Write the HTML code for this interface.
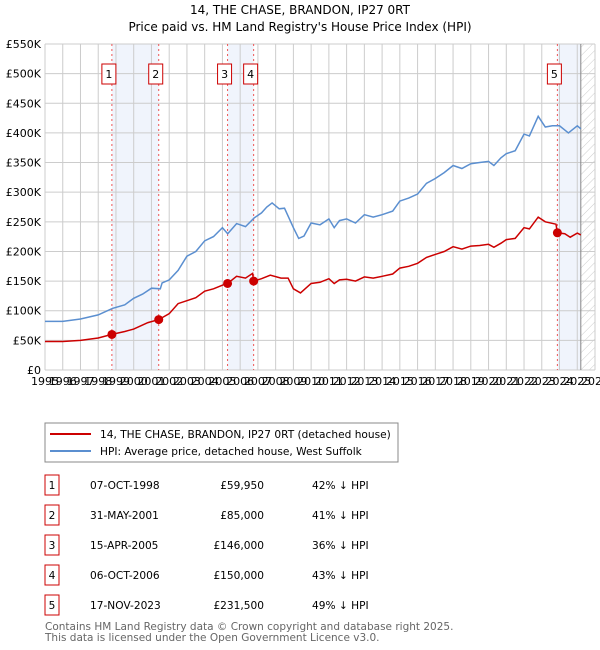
<!DOCTYPE html>
<html><head><meta charset="utf-8"><style>
body{margin:0;width:600px;height:650px;background:#fff;font-family:"DejaVu Sans","Liberation Sans",sans-serif;overflow:hidden}
svg{position:absolute;left:0;top:0}
</style></head><body>
<svg width="600" height="650" id="chart" font-family="DejaVu Sans, Liberation Sans, sans-serif">
<defs><pattern id="hatch" width="6" height="6" patternUnits="userSpaceOnUse" patternTransform="rotate(45)"><line x1="0" y1="0" x2="0" y2="6" stroke="#ccc" stroke-width="1"/></pattern></defs>
<text x="300" y="14" text-anchor="middle" font-size="12">14, THE CHASE, BRANDON, IP27 0RT</text>
<text x="300" y="31" text-anchor="middle" font-size="12">Price paid vs. HM Land Registry's House Price Index (HPI)</text>
<g id="grid"></g><g id="marks"></g><g id="axes"></g>
<rect x="45" y="423" width="353" height="39" fill="#fff" stroke="#888"/>
<line x1="50" y1="434" x2="91" y2="434" stroke="#cc0000" stroke-width="2"/>
<text x="100" y="438" font-size="10.6">14, THE CHASE, BRANDON, IP27 0RT (detached house)</text>
<line x1="50" y1="451" x2="91" y2="451" stroke="#5b8fd0" stroke-width="2"/>
<text x="100" y="455" font-size="10.6">HPI: Average price, detached house, West Suffolk</text>
<g id="table" font-size="10.6"></g>
<text x="45" y="630" font-size="10.5" fill="#666">Contains HM Land Registry data © Crown copyright and database right 2025.</text>
<text x="45" y="641" font-size="10.5" fill="#666">This data is licensed under the Open Government Licence v3.0.</text>
</svg>
<script>
const hpiYears=[1995,1996,1997,1998,1998.8,1999.5,2000,2000.5,2001,2001.5,2001.6,2002,2002.5,2003,2003.5,2004,2004.5,2005,2005.3,2005.8,2006.3,2006.8,2007.2,2007.5,2007.8,2008.2,2008.5,2009,2009.3,2009.6,2010,2010.5,2011,2011.3,2011.6,2012,2012.5,2013,2013.5,2014,2014.6,2015,2015.5,2016,2016.5,2017,2017.5,2018,2018.5,2019,2019.5,2020,2020.3,2020.7,2021,2021.5,2022,2022.3,2022.8,2023.2,2023.6,2024,2024.5,2025,2025.2];
const hpiValues=[82,82,86,93,104,110,121,128,138,137,147,152,168,192,200,218,225,240,230,247,242,257,265,275,282,272,273,240,222,226,248,245,255,240,252,255,248,262,258,262,268,285,290,297,315,323,333,345,340,348,350,352,345,358,365,370,398,395,428,410,412,412,400,412,407];
const propYears=[1995,1996,1997,1998,1998.77,1999.5,2000,2000.8,2001.41,2002,2002.5,2003,2003.5,2004,2004.5,2005,2005.29,2005.8,2006.3,2006.7,2006.76,2007.2,2007.7,2008.3,2008.7,2009,2009.4,2010,2010.5,2011,2011.3,2011.6,2012,2012.5,2013,2013.5,2014,2014.6,2015,2015.5,2016,2016.5,2017,2017.5,2018,2018.5,2019,2019.5,2020,2020.3,2020.7,2021,2021.5,2022,2022.3,2022.8,2023.2,2023.8,2023.88,2024.3,2024.6,2025,2025.2];
const propValues=[48,48,50,54,60,65,69,80,85,95,112,117,122,133,137,143,146,158,155,163,150,154,160,155,155,137,130,146,148,154,146,152,153,150,157,155,158,162,172,175,180,190,195,200,208,204,209,210,212,207,214,220,222,240,238,258,250,246,231.5,230,224,231,228];
const saleLabels=["1","2","3","4","5"];
const saleYears=[1998.77,2001.41,2005.29,2006.76,2023.88];
const saleValues=[59.95,85,146,150,231.5];
const saleDates=["07-OCT-1998","31-MAY-2001","15-APR-2005","06-OCT-2006","17-NOV-2023"];
const salePrices=["£59,950","£85,000","£146,000","£150,000","£231,500"];
const saleDiffs=["42% ↓ HPI","41% ↓ HPI","36% ↓ HPI","43% ↓ HPI","49% ↓ HPI"];
const yTicks=[0,50,100,150,200,250,300,350,400,450,500,550];
const yTickLabels=["£0","£50K","£100K","£150K","£200K","£250K","£300K","£350K","£400K","£450K","£500K","£550K"];
const xTicks=[1995,1996,1997,1998,1999,2000,2001,2002,2003,2004,2005,2006,2007,2008,2009,2010,2011,2012,2013,2014,2015,2016,2017,2018,2019,2020,2021,2022,2023,2024,2025,2026];
const dataEnd=2025.2;
const X0=45,X1=595,Y0=370,Y1=44;
const sx=y=>X0+(y-1995)/(2026-1995)*(X1-X0);
const sy=v=>Y0-v/550*(Y0-Y1);
const NS="http://www.w3.org/2000/svg";
function mk(tag,attrs,parent){const e=document.createElementNS(NS,tag);for(const k in attrs)e.setAttribute(k,attrs[k]);parent.appendChild(e);return e;}
const grid=document.getElementById('grid'),marks=document.getElementById('marks'),axes=document.getElementById('axes'),table=document.getElementById('table');
for(let i=0;i<saleYears.length;i+=2){
 const a=saleYears[i],b=i+1<saleYears.length?saleYears[i+1]:dataEnd;
 const r=mk('rect',{x:sx(a),y:Y1,width:sx(b)-sx(a),height:Y0-Y1,fill:'#f0f4fc'},grid);
 
 
}
const hz=mk('rect',{x:sx(dataEnd),y:Y1,width:X1-sx(dataEnd),height:Y0-Y1,fill:'url(#hatch)'},grid);


yTicks.forEach((t,i)=>{
 const l=mk('line',{x1:X0,x2:X1,y1:sy(t),y2:sy(t),stroke:'#ccc'},grid);
 
 
 const tx=mk('text',{x:X0-4,y:sy(t)+4,'text-anchor':'end','font-size':11},axes);
 tx.textContent=yTickLabels[i];
 
 
});
xTicks.forEach(t=>{
 const l=mk('line',{x1:sx(t),x2:sx(t),y1:Y1,y2:Y0,stroke:'#ccc'},grid);
 
 
 const tx=mk('text',{x:sx(t),y:Y0+15,'text-anchor':'middle','font-size':11},axes);
 tx.textContent=t;
 
 
});
const ev=mk('line',{x1:sx(dataEnd),x2:sx(dataEnd),y1:Y1,y2:Y0,stroke:'#888'},grid);


saleYears.forEach((y,i)=>{
 const l=mk('line',{x1:sx(y),x2:sx(y),y1:Y1,y2:Y0,stroke:'#e55','stroke-dasharray':'2,3'},grid);
 
 
 const bx=mk('rect',{x:sx(y)-10,y:64,width:14,height:20,fill:'#fff',stroke:'#cc0000'},marks);
 
 
 const t=mk('text',{x:sx(y)-3,y:78,'text-anchor':'middle','font-size':11},marks);
 t.textContent=saleLabels[i];
 
 
});
function path(xs,vs,color,name){
 const d=xs.map((x,i)=>(i?'L':'M')+sx(x).toFixed(1)+','+sy(vs[i]).toFixed(1)).join('');
 const p=mk('path',{d,fill:'none',stroke:color,'stroke-width':1.5},marks);
 
 
}
path(hpiYears,hpiValues,'#5b8fd0','hpi-line');
path(propYears,propValues,'#cc0000','property-line');
saleYears.forEach((y,i)=>{
 const c=mk('circle',{cx:sx(y),cy:sy(saleValues[i]),r:4.5,fill:'#cc0000'},marks);
 
 
});
saleLabels.forEach((s,i)=>{
 const yy=484+i*30;
 const b=mk('rect',{x:45,y:yy-9,width:14,height:20,fill:'#fff',stroke:'#cc0000'},table);
 
 
 const cells=[[52,s,'middle'],[90,saleDates[i],'start'],[264,salePrices[i],'end'],[312,saleDiffs[i],'start']];
 cells.forEach(c=>{
  const t=mk('text',{x:c[0],y:yy+5,'text-anchor':c[2]},table);
  t.textContent=c[1];
  
  
 });
});
</script>
</body></html>
